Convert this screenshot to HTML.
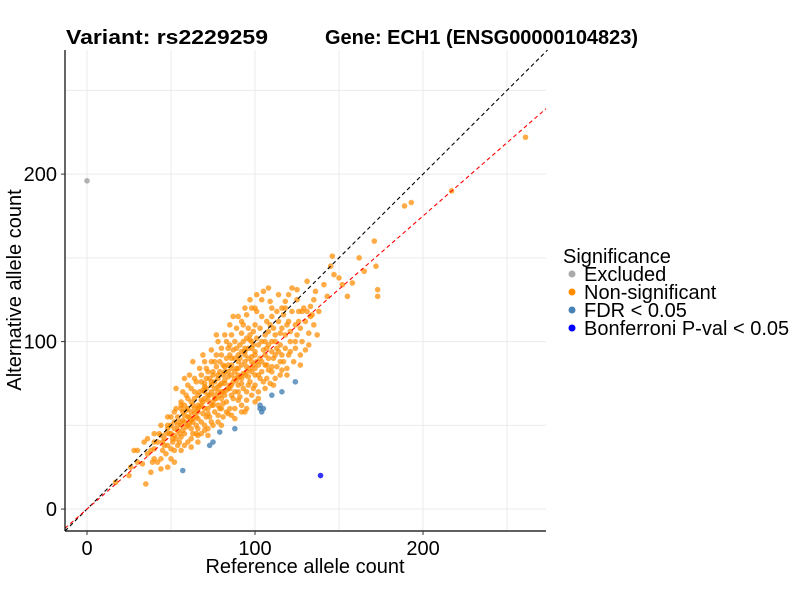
<!DOCTYPE html>
<html><head><meta charset="utf-8">
<style>
body{margin:0;background:#fff;}
svg{display:block;font-family:"Liberation Sans",Arial,sans-serif;}
</style></head>
<body>
<svg id="chart" width="800" height="600"></svg>
<script>
const excludedPts=[[0,196]];
const fdrPts=[[57,23],[73,38],[75,40],[79,46],[88,48],[103,62],[104,58],[105,60],[103,60],[110,68],[116,70],[124,76]];
const bonfPts=[[139,20]];
const nonsigPts=[
[261,222],[217,190],[193,183],[189,181],[171,160],[173,131],[173,127],[172,145],[162,150],[146,151],[165,142],[150,138],[143,127],[135,125],[155,127],[138,118],[152,134],[158,135],[147,140],[141,134],[131,136],[145,145],[120,128],[125,131],[133,121],[128,118],[136,130],
[17,16],[25,20],[35,15],[30,35],[28,35],[40,36],[42,28],[48,25],[38,22],[33,27],[36,33],[45,40],[44,24],[50,30],[52,35],[47,33],[40,30],[43,45],[38,35],
[55,40],[58,45],[60,50],[62,48],[65,55],[55,52],[57,58],[60,60],[63,62],[66,58],[68,52],[70,60],[72,65],[75,62],[78,70],[80,66],[82,75],[85,72],[88,78],[90,80],[92,75],[95,85],[98,88],[100,92],[102,86],[105,95],[108,98],[110,100],[112,92],[115,105],
[50,45],[52,48],[54,55],[56,50],[58,62],[61,55],[64,66],[67,70],[69,64],[71,72],[73,68],[76,76],[79,74],[81,80],[84,82],[86,86],[89,84],[91,90],[94,92],[96,96],[99,98],[101,102],[104,100],[106,104],[109,110],[111,108],[114,112],[117,116],[119,110],[122,118],
[60,40],[63,45],[66,48],[70,50],[73,55],[76,58],[80,60],[83,64],[86,68],[90,70],[93,72],[97,76],[100,80],[104,82],[107,86],[111,90],[114,94],[118,96],[121,100],[125,104],
[48,50],[50,55],[53,60],[56,64],[59,68],[62,72],[65,76],[68,80],[71,84],[74,88],[77,92],[80,96],[83,100],[86,104],[89,108],[92,112],[95,116],[98,120],[101,118],[104,125],
[57,70],[60,74],[64,78],[67,84],[70,88],[74,95],[78,100],[82,104],[85,110],[90,115],[94,120],[97,125],[101,128],[105,130],[108,132],
[65,45],[68,45],[72,48],[75,50],[78,52],[81,55],[84,57],[88,60],[92,62],[95,65],[98,68],[102,70],[106,72],[109,75],[112,78],[115,80],[119,84],[123,88],[127,92],[130,95],
[62,58],[64,60],[66,62],[68,65],[70,66],[72,68],[74,70],[76,72],[78,73],[80,75],[82,77],[84,79],[86,80],[88,82],[90,84],[92,86],[94,88],[96,90],[98,91],[100,94],
[63,52],[66,54],[69,57],[72,60],[75,64],[77,66],[79,68],[81,70],[83,71],[85,74],[87,76],[89,77],[91,79],[93,81],[95,82],[97,84],[99,86],[101,88],[103,90],[106,92],
[70,75],[73,78],[75,82],[77,85],[79,88],[81,86],[83,90],[85,92],[87,95],[89,96],[91,98],[93,100],[95,102],[97,104],[99,106],[103,108],[107,112],[110,115],[113,118],[116,120],
[72,57],[74,62],[76,66],[78,62],[80,70],[82,68],[84,72],[86,74],[88,70],[90,74],[92,78],[94,80],[96,79],[98,82],[100,84],[102,80],[104,88],[106,86],[108,90],[110,94],
[45,35],[48,38],[51,40],[53,42],[55,45],[57,47],[59,49],[61,51],[63,54],[46,42],[49,45],[52,44],[54,47],[56,43],[58,52],[60,55],[62,53],[64,57],[66,60],[68,62],
[112,100],[115,98],[118,104],[121,106],[124,110],[127,108],[130,112],[133,115],[126,118],[129,120],[120,92],[124,96],[128,100],[117,88],[132,105],[135,110],[113,85],[116,83],[110,82],[107,78],
[85,60],[90,65],[95,70],[100,74],[105,76],[110,85],[115,88],[95,60],[100,64],[92,58],[88,54],[83,58],[78,56],[74,52],[70,47],[66,44],[62,42],[58,38],[54,38],[50,36],
[70,70],[74,74],[78,78],[82,82],[86,84],[90,88],[94,94],[98,96],[102,98],[106,100],[108,106],[112,104],[116,108],[120,112],[71,78],[75,80],[79,82],[84,86],[88,90],[92,94],
[40,45],[44,50],[48,55],[52,58],[56,62],[42,40],[46,38],[50,50],[54,50],[58,56],[62,64],[66,68],[70,73],[74,76],[78,80],[82,85],[86,90],[90,92],[94,96],[98,100],
[125,125],[118,124],[110,120],[104,115],[100,110],[96,108],[92,105],[88,100],[84,96],[80,92],[76,88],[72,82],[68,76],[64,70],[60,66],[56,60],[52,52],[48,48],[44,44],[40,40],
[53,72],[61,80],[69,92],[77,104],[93,110],[100,120],[109,124],[114,128],[122,132],[87,115],[63,88],[58,78],[67,61],[71,55],[81,63],[87,66],[96,74],[103,78],[113,96],[121,94],
[126,112],[131,118],[118,120],[107,96],[97,101],[85,98],[76,68],[69,71],[59,59],[51,42],[47,45],[57,53],[65,50],[79,60],[91,67],[99,72],[108,83],[116,92],[124,100],[134,116],
[36,42],[39,28],[44,30],[52,28],[56,35],[30,28],[26,25],[34,40],[62,37],[66,40],[72,44],[80,50],[86,56],[94,58],[102,66],[111,74],[119,80],[127,86],[132,98],[137,104]
];
const xTicks=[0,100,200];
const yTicks=[0,100,200];
const xMinor=[50,150,250];
const yMinor=[50,150,250];
const slopeRed=0.875;

const NS='http://www.w3.org/2000/svg';
const svg=document.getElementById('chart');
const L=65,R=546,T=50,B=531;
const xMin=-13.1,xMax=273.2,yMin=-13.1,yMax=274.1;
const sx=v=>L+(v-xMin)/(xMax-xMin)*(R-L);
const sy=v=>B-(v-yMin)/(yMax-yMin)*(B-T);
function mk(tag,attrs,parent){const e=document.createElementNS(NS,tag);for(const k in attrs)e.setAttribute(k,attrs[k]);(parent||svg).appendChild(e);return e;}

const grid=mk('g',{});


[...xTicks,...xMinor].forEach(v=>mk('line',{x1:sx(v),x2:sx(v),y1:T,y2:B,stroke:'#ebebeb','stroke-width':1},grid));
[...yTicks,...yMinor].forEach(v=>mk('line',{y1:sy(v),y2:sy(v),x1:L,x2:R,stroke:'#ebebeb','stroke-width':1},grid));

const pts=mk('g',{});


function draw(arr,color,op,name){arr.forEach(p=>{const c=mk('circle',{cx:sx(p[0]),cy:sy(p[1]),r:2.8,fill:color,'fill-opacity':op},pts);

});}
draw(nonsigPts,'#FF8C00',0.72,'point-non-significant');
draw(excludedPts,'#AAAAAA',0.9,'point-excluded');
draw(fdrPts,'#4682B4',0.8,'point-fdr');
draw(bonfPts,'#0000FF',0.8,'point-bonferroni');

const l1=mk('line',{x1:sx(xMin),y1:sy(xMin),x2:sx(yMax),y2:sy(yMax),stroke:'#000','stroke-width':1.1,'stroke-dasharray':'4,3'});


const l2=mk('line',{x1:sx(xMin),y1:sy(xMin*slopeRed),x2:sx(xMax),y2:sy(xMax*slopeRed),stroke:'#ff0000','stroke-width':1.1,'stroke-dasharray':'4,3'});



const ax=mk('g',{});


mk('line',{x1:L,x2:L,y1:T,y2:B,stroke:'#000','stroke-width':1.2},ax);
mk('line',{x1:L,x2:R,y1:B,y2:B,stroke:'#000','stroke-width':1.2},ax);
xTicks.forEach(v=>{mk('line',{x1:sx(v),x2:sx(v),y1:B,y2:B+4,stroke:'#333'},ax);
const t=mk('text',{x:sx(v),y:B+24,'text-anchor':'middle','font-size':20,fill:'#000'},ax);t.textContent=v;

});
yTicks.forEach(v=>{mk('line',{x1:L-4,x2:L,y1:sy(v),y2:sy(v),stroke:'#333'},ax);
const t=mk('text',{x:L-8,y:sy(v)+7,'text-anchor':'end','font-size':20,fill:'#000'},ax);t.textContent=v;

});
</script>
<svg style="position:absolute;left:0;top:0" width="800" height="600">
<g font-family="Liberation Sans, Arial, sans-serif">
<text x="66" y="44" font-size="20" font-weight="bold" textLength="202" lengthAdjust="spacingAndGlyphs">Variant: rs2229259</text>
<text x="325" y="44" font-size="20" font-weight="bold" textLength="313" lengthAdjust="spacingAndGlyphs">Gene: ECH1 (ENSG00000104823)</text>
<text x="305" y="573" font-size="20" text-anchor="middle">Reference allele count</text>
<text transform="translate(21,290) rotate(-90)" font-size="20" text-anchor="middle">Alternative allele count</text>
<g>
<text x="563" y="263" font-size="20">Significance</text>
<circle cx="572" cy="274" r="3.5" fill="#AAAAAA"/>
<text x="584" y="281" font-size="20">Excluded</text>
<circle cx="572" cy="292" r="3.5" fill="#FF8C00"/>
<text x="584" y="299" font-size="20">Non-significant</text>
<circle cx="572" cy="310" r="3.5" fill="#4682B4"/>
<text x="584" y="317" font-size="20">FDR &lt; 0.05</text>
<circle cx="572" cy="328" r="3.5" fill="#0000FF"/>
<text x="584" y="335" font-size="20">Bonferroni P-val &lt; 0.05</text>
</g></g></svg>
</body></html>
